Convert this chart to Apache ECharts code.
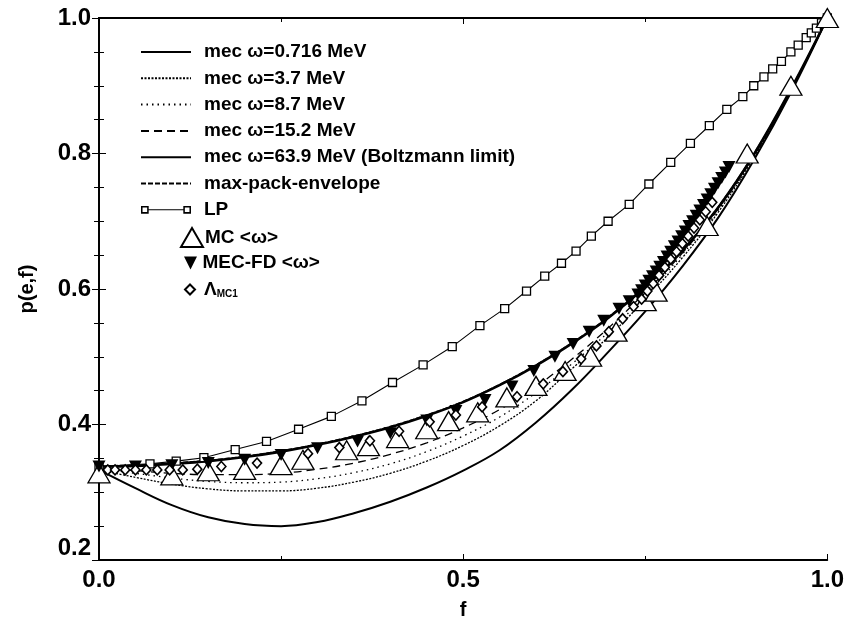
<!DOCTYPE html>
<html><head><meta charset="utf-8">
<script src="https://cdn.jsdelivr.net/npm/echarts@6/dist/echarts.min.js"></script>
<style>html,body{margin:0;padding:0;background:#fff}#c{width:847px;height:625px}</style>
</head><body><div id="c"></div><script>
// ---- data ----
const fGrid = [0,0.05,0.1,0.15,0.2,0.25,0.3,0.35,0.4,0.45,0.5,0.55,0.6,0.65,0.7,0.75,0.8,0.85,0.9,0.95,1.0];
const mec0716 = [0.333,0.306,0.281,0.263,0.253,0.250,0.256,0.269,0.286,0.307,0.332,0.362,0.403,0.452,0.508,0.567,0.632,0.705,0.792,0.890,1.0];
const mec37   = [0.333,0.322,0.312,0.305,0.302,0.302,0.306,0.315,0.328,0.346,0.369,0.398,0.435,0.483,0.530,0.585,0.645,0.713,0.796,0.892,1.0];
const mec87   = [0.335,0.328,0.321,0.316,0.314,0.315,0.320,0.329,0.342,0.360,0.383,0.411,0.447,0.490,0.537,0.590,0.650,0.716,0.798,0.893,1.0];
const mec152  = [0.336,0.332,0.328,0.326,0.326,0.328,0.334,0.343,0.356,0.373,0.395,0.422,0.456,0.497,0.543,0.595,0.652,0.718,0.799,0.894,1.0];
const mec639  = [0.338,0.339,0.342,0.346,0.352,0.360,0.370,0.382,0.396,0.413,0.433,0.458,0.487,0.520,0.558,0.603,0.655,0.720,0.800,0.895,1.0];
const maxPack = [0.339,0.340,0.343,0.347,0.353,0.361,0.371,0.383,0.397,0.414,0.434,0.459,0.488,0.521,0.559,0.604,0.656,0.721,0.801,0.895,1.0];

const lpF = [0,0.07,0.106,0.144,0.187,0.23,0.274,0.319,0.361,0.403,0.445,0.485,0.523,0.557,0.587,0.612,0.635,0.655,0.676,0.699,0.728,0.755,0.785,0.812,0.838,0.862,0.884,0.899,0.913,0.925,0.937,0.95,0.96,0.971,0.978,0.985,0.992,1.0];
const lpP = [0.338,0.342,0.346,0.351,0.363,0.375,0.393,0.412,0.435,0.462,0.488,0.515,0.546,0.571,0.597,0.619,0.638,0.656,0.678,0.700,0.725,0.755,0.787,0.815,0.841,0.865,0.884,0.900,0.913,0.925,0.936,0.950,0.960,0.971,0.978,0.985,0.993,1.0];

const mcF = [0.0,0.1,0.15,0.2,0.25,0.28,0.34,0.37,0.41,0.45,0.48,0.52,0.56,0.60,0.64,0.675,0.71,0.75,0.765,0.835,0.89,0.95,1.0];
const mcP = [0.328,0.325,0.331,0.333,0.340,0.348,0.362,0.368,0.380,0.393,0.405,0.418,0.440,0.457,0.479,0.500,0.537,0.582,0.596,0.693,0.800,0.900,1.0];

const fdF = [0,0.05,0.1,0.15,0.2,0.25,0.3,0.355,0.4,0.45,0.49,0.53,0.567,0.597,0.626,0.651,0.673,0.693,0.714,0.728,0.740,0.745,0.750,0.755,0.760,0.765,0.770,0.775,0.780,0.785,0.790,0.795,0.800,0.805,0.810,0.815,0.820,0.825,0.830,0.835,0.840,0.845,0.850,0.855,0.860,0.865];
const fdP = [0.338,0.338,0.340,0.343,0.348,0.355,0.365,0.375,0.387,0.406,0.420,0.436,0.456,0.479,0.500,0.519,0.537,0.553,0.571,0.582,0.592,0.598,0.605,0.612,0.619,0.626,0.633,0.640,0.648,0.655,0.663,0.670,0.678,0.685,0.693,0.700,0.708,0.716,0.724,0.732,0.740,0.748,0.756,0.764,0.772,0.780];

const lamF = [0.012,0.022,0.036,0.05,0.065,0.08,0.097,0.115,0.135,0.168,0.217,0.287,0.33,0.372,0.412,0.454,0.49,0.526,0.574,0.61,0.637,0.662,0.683,0.70,0.719,0.734,0.745,0.753,0.761,0.769,0.777,0.785,0.793,0.801,0.809,0.817,0.825,0.833,0.842];
const lamP = [0.333,0.333,0.333,0.333,0.333,0.333,0.333,0.333,0.334,0.338,0.343,0.357,0.366,0.376,0.390,0.404,0.414,0.426,0.441,0.460,0.478,0.497,0.516,0.537,0.556,0.574,0.585,0.597,0.608,0.620,0.632,0.644,0.655,0.667,0.678,0.690,0.702,0.714,0.728];

const xTicks = ['0.0','0.5','1.0'];
const yTicks = ['0.2','0.4','0.6','0.8','1.0'];

// ---- build ----
const zip = (a,b) => a.map((v,i)=>[v,b[i]]);
const FONT = 'Liberation Sans';
const names = ['mec ω=0.716 MeV','mec ω=3.7 MeV','mec ω=8.7 MeV','mec ω=15.2 MeV','mec ω=63.9 MeV (Boltzmann limit)','max-pack-envelope','LP','MC <ω>','MEC-FD <ω>','ΛMC1'];

function lineSeries(name, ys, ls){
  return {name, type:'line', data: zip(fGrid, ys), symbol:'none', smooth:0.4,
    lineStyle: Object.assign({color:'#000'}, ls), itemStyle:{color:'#000'}, z:2};
}
const series = [
  lineSeries(names[0], mec0716, {width:2, type:'solid'}),
  lineSeries(names[1], mec37, {width:1.3, type:[2,1.5]}),
  lineSeries(names[2], mec87, {width:1.3, type:[1.5,4]}),
  lineSeries(names[3], mec152, {width:1.3, type:[8,5]}),
  lineSeries(names[4], mec639, {width:2.6, type:'solid'}),
  lineSeries(names[5], maxPack, {width:1.5, type:[5,2]}),
  {name:names[6], type:'line', data: zip(lpF, lpP), symbol:'rect', symbolSize:8, showSymbol:true,
    lineStyle:{color:'#000', width:1.1}, itemStyle:{color:'#fff', borderColor:'#000', borderWidth:1.3, opacity:1}, z:3},
  {name:names[7], type:'scatter', data: zip(mcF, mcP), symbol:'triangle', symbolSize:[22,19],
    itemStyle:{color:'#fff', borderColor:'#000', borderWidth:1.3, opacity:1}, z:4},
  {name:names[8], type:'scatter', data: zip(fdF, fdP), symbol:'path://M0,0L10,0L5,10Z', symbolSize:[13,12],
    itemStyle:{color:'#000', opacity:1}, z:5},
  {name:names[9], type:'scatter', data: zip(lamF, lamP), symbol:'diamond', symbolSize:[9,10],
    itemStyle:{color:'#fff', borderColor:'#000', borderWidth:1.6, opacity:1}, z:6}
];

const lbl = {fontFamily:FONT, fontSize:19, fontWeight:'bold', color:'#000', lineHeight:20};
const option = {
  animation:false,
  backgroundColor:'#fff',
  grid:{left:99, right:14, top:18, bottom:63},
  xAxis:[
    {type:'value', min:0, max:1, interval:0.5, position:'bottom',
     name:'f', nameLocation:'middle', nameGap:40, nameTextStyle:{fontFamily:FONT, fontSize:20, fontWeight:'bold', color:'#000'},
     axisLine:{show:true, lineStyle:{color:'#000', width:1.8}},
     axisTick:{inside:true, length:6, lineStyle:{color:'#000'}},
     minorTick:{show:true, splitNumber:2, length:4, lineStyle:{color:'#000'}},
     splitLine:{show:false},
     axisLabel:{margin:8, fontFamily:FONT, fontSize:24, fontWeight:'bold', color:'#000', formatter:v=>xTicks[Math.round(v*2)]}},
    {type:'value', min:0, max:1, interval:0.5, position:'top',
     axisLine:{show:true, lineStyle:{color:'#000', width:1.8}},
     axisTick:{inside:true, length:6, lineStyle:{color:'#000'}},
     minorTick:{show:true, splitNumber:2, length:4, lineStyle:{color:'#000'}},
     splitLine:{show:false}, axisLabel:{show:false}}
  ],
  yAxis:[
    {type:'value', min:0.2, max:1.0, interval:0.2, position:'left',
     name:'p(e,f)', nameLocation:'middle', nameGap:62, nameRotate:90, nameTextStyle:{fontFamily:FONT, fontSize:20, fontWeight:'bold', color:'#000'},
     axisLine:{show:true, lineStyle:{color:'#000', width:1.8}},
     axisTick:{inside:true, length:7, lineStyle:{color:'#000'}},
     minorTick:{show:true, splitNumber:4, length:5, lineStyle:{color:'#000'}},
     splitLine:{show:false},
     axisLabel:{margin:8, fontFamily:FONT, fontSize:24, fontWeight:'bold', color:'#000',
       formatter:v=>{const i=Math.round((v-0.2)/0.2); return i===0 ? '{l|'+yTicks[0]+'}' : yTicks[i];},
       rich:{l:{fontFamily:FONT, fontSize:24, fontWeight:'bold', color:'#000', padding:[0,0,24,0]}}}},
    {type:'value', min:0.2, max:1.0, interval:0.2, position:'right',
     axisLine:{show:true, lineStyle:{color:'#000', width:1.8}},
     axisTick:{inside:true, length:7, lineStyle:{color:'#000'}},
     minorTick:{show:true, splitNumber:4, length:5, lineStyle:{color:'#000'}},
     splitLine:{show:false}, axisLabel:{show:false}}
  ],
  legend:[
    {orient:'vertical', left:140, top:42, padding:0, itemGap:6.3, itemWidth:50, itemHeight:8,
     itemStyle:{opacity:0},
     data:[names[0],names[1],names[2],names[3],names[4],names[5],
       {name:'LP', icon:'path://M0,0h8v8h-8z M1.6,1.6v4.8h4.8v-4.8z M8,3.5h36v1h-36z M44,0h8v8h-8z M45.6,1.6v4.8h4.8v-4.8z', itemStyle:{color:'#000', borderWidth:0, opacity:1}}],
     textStyle:Object.assign({padding:[0,0,0,8]}, lbl)},
    {orient:'vertical', left:180, top:227, padding:0, itemWidth:22, itemHeight:19,
     data:[names[7]], textStyle:Object.assign({padding:[0,0,0,-3]}, lbl)},
    {orient:'vertical', left:184, top:253, padding:0, itemWidth:14, itemHeight:13,
     data:[names[8]], textStyle:lbl},
    {orient:'vertical', left:184, top:280, padding:0, itemWidth:10, itemHeight:10,
     data:[names[9]], formatter:()=>'{a|Λ}{s|MC1}',
     textStyle:{fontFamily:FONT, fontSize:19, fontWeight:'bold', color:'#000', padding:[0,0,0,4],
       rich:{a:{fontFamily:FONT, fontSize:19, fontWeight:'bold', color:'#000', lineHeight:20},
             s:{fontFamily:FONT, fontSize:10, fontWeight:'bold', color:'#000', lineHeight:20, verticalAlign:'bottom', padding:[8,0,0,0]}}}}
  ],
  series
};
const chart = echarts.init(document.getElementById('c'), null, {renderer:'canvas'});
chart.setOption(option);
</script></body></html>
